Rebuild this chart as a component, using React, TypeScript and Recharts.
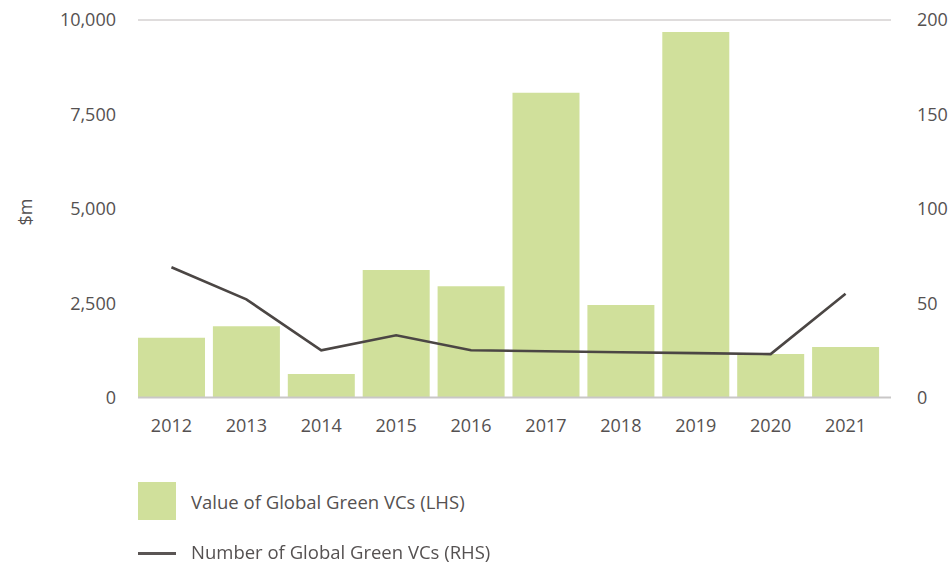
import React from "react";
import {
  ComposedChart,
  Bar,
  Line,
  XAxis,
  YAxis,
  CartesianGrid,
} from "recharts";

// Valeurs.
const years = ["2012", "2013", "2014", "2015", "2016", "2017", "2018", "2019", "2020", "2021"];
const valueUsdM = [1580, 1890, 620, 3380, 2950, 8070, 2450, 9680, 1150, 1340];
const dealCount = [69, 52, 25, 33, 25, 24.5, 24, 23.5, 23, 55];
const leftTicks = [0, 2500, 5000, 7500, 10000];
const rightTicks = [0, 50, 100, 150, 200];
const seriesNames = ["Value of Global Green VCs (LHS)", "Number of Global Green VCs (RHS)"];

const BAR = "#d0e09b";
const LINE = "#4b4644";
const TEXT = "#555151";
const FONT = "'Open Sans', sans-serif";

const data = years.map((y, i) => ({ year: y, value: valueUsdM[i], count: dealCount[i] }));

const tickStyle = { fontSize: 18, fill: TEXT, fontFamily: FONT };

export default function App() {
  return (
    <div style={{ position: "fixed", left: 0, top: 0, width: 952, height: 564, background: "#fff", fontFamily: FONT }}>
      <ComposedChart
        width={952}
        height={440}
        data={data}
        margin={{ top: 20, right: 0, bottom: 0, left: 0 }}
        barCategoryGap={4}
      >
        <CartesianGrid vertical={false} stroke="#bfbaba" strokeWidth={1} />
        <XAxis
          dataKey="year"
          height={42.5}
          padding={{ left: -4, right: 8 }}
          tickLine={false}
          tickSize={0}
          tickMargin={22}
          axisLine={{ stroke: "#c9c7c7", strokeWidth: 2 }}
          tick={tickStyle}
          interval={0}
        />
        <YAxis
          yAxisId="left"
          width={138}
          domain={[0, 10000]}
          ticks={leftTicks}
          tickFormatter={(v: number) => v.toLocaleString("en-US")}
          axisLine={false}
          tickLine={false}
          tickSize={0}
          tickMargin={22}
          tick={tickStyle}
          label={{
            content: () => (
              <text
                x={25}
                y={212}
                transform="rotate(-90 25 212)"
                textAnchor="middle"
                dominantBaseline="central"
                fontSize={18}
                fill={TEXT}
                fontFamily={FONT}
              >
                $m
              </text>
            ),
          }}
        />
        <YAxis
          yAxisId="right"
          orientation="right"
          width={61}
          domain={[0, 200]}
          ticks={rightTicks}
          axisLine={false}
          tickLine={false}
          tickSize={0}
          tickMargin={26}
          tick={{ ...tickStyle, textAnchor: "start" }}
        />
        <Bar yAxisId="left" dataKey="value" name={seriesNames[0]} fill={BAR} isAnimationActive={false} />
        <Line
          yAxisId="right"
          dataKey="count"
          name={seriesNames[1]}
          type="linear"
          stroke={LINE}
          strokeWidth={2.6}
          dot={false}
          activeDot={false}
          isAnimationActive={false}
        />
      </ComposedChart>

      {/* Légende */}
      <div style={{ position: "absolute", left: 138, top: 482, display: "flex", alignItems: "center" }}>
        <div style={{ width: 38, height: 38, background: BAR }} />
        <span style={{ marginLeft: 15, fontSize: 18.5, color: TEXT }}>{seriesNames[0]}</span>
      </div>
      <div style={{ position: "absolute", left: 138, top: 536, height: 30, display: "flex", alignItems: "center" }}>
        <div style={{ width: 38, height: 3, background: "#5a5554", marginTop: 5 }} />
        <span style={{ marginLeft: 15, fontSize: 18.5, color: TEXT }}>{seriesNames[1]}</span>
      </div>
    </div>
  );
}
